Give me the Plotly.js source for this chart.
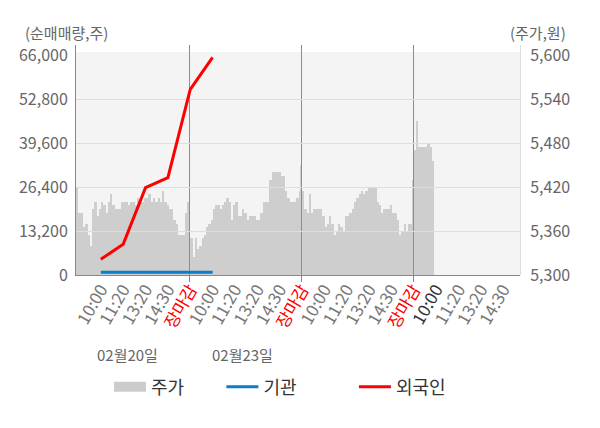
<!DOCTYPE html>
<html>
<head>
<meta charset="utf-8">
<script src="https://cdn.plot.ly/plotly-3.0.1.min.js"></script>
<style>
  html, body { margin: 0; padding: 0; background: #fff; }
  #chart { width: 600px; height: 428px; }
</style>
</head>
<body>
<div id="chart"></div>
<script>
// intraday price (주가), read per bar off the picture, one array per trading day
var priceDay1 = [5420, 5385, 5385, 5365, 5370, 5355, 5340, 5390, 5400, 5380,
                 5390, 5400, 5395, 5385, 5400, 5410, 5395, 5390, 5390, 5390,
                 5400, 5400, 5400, 5395, 5400, 5400, 5395, 5405, 5400, 5400,
                 5405, 5405, 5410, 5400, 5405, 5400, 5405, 5400, 5415, 5400,
                 5395, 5390, 5390, 5375, 5370, 5355, 5355, 5355, 5385, 5400];
var priceDay2 = [5395, 5350, 5325, 5350, 5335, 5340, 5350, 5355, 5365, 5370,
                 5375, 5390, 5395, 5395, 5390, 5395, 5400, 5405, 5400, 5375,
                 5395, 5400, 5380, 5380, 5390, 5385, 5375, 5380, 5380, 5380,
                 5375, 5375, 5385, 5400, 5400, 5400, 5430, 5440, 5440, 5440,
                 5440, 5435, 5435, 5415, 5405, 5400, 5400, 5400, 5405, 5415];
var priceDay3 = [5450, 5415, 5390, 5385, 5410, 5385, 5390, 5390, 5390, 5390,
                 5380, 5365, 5370, 5380, 5370, 5355, 5360, 5370, 5365, 5360,
                 5380, 5380, 5385, 5390, 5400, 5405, 5410, 5415, 5410, 5415,
                 5420, 5420, 5420, 5420, 5400, 5395, 5385, 5390, 5390, 5390,
                 5395, 5385, 5385, 5375, 5355, 5360, 5370, 5360, 5370, 5370];
var priceDay4 = [5430, 5470, 5510, 5475, 5475, 5475, 5475, 5480, 5475, 5455];

// 외국인 / 기관 net volume at the KRX estimate times
var flowSlots = [1, 2, 3, 4, 5, 6];
var foreignNet = [4700, 9200, 26200, 29200, 55700, 65300];
var instNet = [800, 800, 800, 800, 800, 800];

// x axis: five slots per day (09:00 | 10:00 11:20 13:20 14:30 장마감)
var tickSlots = [1, 2, 3, 4, 5, 6, 7, 8, 9, 10, 11, 12, 13, 14, 15, 16, 17, 18, 19];
var CLOSE = '<span style="color:#ff0000">장마감</span>';
var tickLabels = ['10:00', '11:20', '13:20', '14:30', CLOSE,
                  '10:00', '11:20', '13:20', '14:30', CLOSE,
                  '10:00', '11:20', '13:20', '14:30', CLOSE,
                  '<span style="color:#333">10:00</span>', '11:20', '13:20', '14:30'];
var dayBreaks = [4.96, 9.99, 14.98];
var dateLabels = ['02월20일', '02월23일'];
var datePos = [2.2, 7.35];

var volTicks = [0, 13200, 26400, 39600, 52800, 66000];
var volGrid = [13200, 26400, 39600, 52800];
var priceTicks = [5300, 5360, 5420, 5480, 5540, 5600];

var FONT = 'Noto Sans CJK KR, Noto Sans, sans-serif';
var xRange = [-0.11, 19.75];
var NB = '\u00a0';

// bar positions within a day (50 bars per day)
var step = 0.101;
function dayX(d, n) {
    var out = [];
    for (var i = 0; i < n; i++) out.push(5 * d - 0.1 + (i + 0.5) * step);
    return out;
}
var days = [priceDay1, priceDay2, priceDay3, priceDay4];
var px = [], py = [];
for (var d = 0; d < days.length; d++) {
    px = px.concat(dayX(d, days[d].length));
    py = py.concat(days[d]);
}

var priceTrace = {
    x: px, y: py, type: 'bar', width: step,
    xaxis: 'x', yaxis: 'y',
    marker: {color: '#cecece', line: {width: 0}},
    showlegend: false, hoverinfo: 'skip'
};
// legend entry only (wide grey swatch)
var priceLegend = {
    x: [null], y: [null], type: 'scatter', mode: 'lines', name: '주가' + NB.repeat(8),
    xaxis: 'x2', yaxis: 'y3',
    line: {color: '#cccccc', width: 10}
};
var instTrace = {
    x: flowSlots, y: instNet, type: 'scatter', mode: 'lines', name: '기관' + NB.repeat(13),
    xaxis: 'x2', yaxis: 'y2',
    line: {color: '#0b7dcc', width: 3}
};
var foreignTrace = {
    x: flowSlots, y: foreignNet, type: 'scatter', mode: 'lines', name: '외국인',
    xaxis: 'x2', yaxis: 'y2',
    line: {color: '#ff0000', width: 3}
};

var annotations = [
    {text: '(순매매량,주)', xref: 'paper', yref: 'paper', x: -0.0225, y: 1.0522,
     xanchor: 'center', yanchor: 'middle', showarrow: false, font: {size: 15, color: '#666'}},
    {text: '(주가,원)', xref: 'paper', yref: 'paper', x: 1.0405, y: 1.0522,
     xanchor: 'center', yanchor: 'middle', showarrow: false, font: {size: 15, color: '#666'}}
];
for (var k = 0; k < dateLabels.length; k++) {
    annotations.push({text: dateLabels[k], xref: 'x2', yref: 'paper', x: datePos[k], y: -0.3435,
                      xanchor: 'center', yanchor: 'middle', showarrow: false,
                      font: {size: 15, color: '#666'}});
}

var layout = {
    width: 600, height: 428,
    margin: {l: 76, r: 80, t: 45, b: 153},
    paper_bgcolor: '#ffffff',
    plot_bgcolor: 'rgba(0,0,0,0)',
    font: {family: FONT, size: 16, color: '#666'},
    bargap: 0,
    showlegend: true,
    legend: {orientation: 'h', x: 0.0743, xanchor: 'left', y: -0.487, yanchor: 'middle',
             itemwidth: 32, font: {size: 18, color: '#333'}},
    shapes: [{type: 'rect', xref: 'paper', yref: 'paper', x0: 0, x1: 1, y0: 0, y1: 0.9696,
              fillcolor: '#f4f4f4', line: {width: 0}, layer: 'below'}],
    annotations: annotations,
    xaxis: {range: xRange, visible: false, fixedrange: true},
    yaxis: {range: [5300, 5613.6], side: 'right', anchor: 'x', tickvals: priceTicks,
            tickformat: ',', showgrid: false, zeroline: false, showline: true,
            linecolor: '#dddddd', ticks: '', ticklabelstandoff: 6},
    xaxis2: {range: xRange, anchor: 'y2', tickvals: tickSlots, ticktext: tickLabels,
             tickangle: -60, tickfont: {size: 17, color: '#777'}, ticks: '', showgrid: false,
             zeroline: false, showline: true, linecolor: '#888888', ticklabelstandoff: -3,
             minor: {tickvals: dayBreaks, ticks: 'outside', ticklen: 6, tickcolor: '#888888',
                     showgrid: true, gridcolor: '#8c8c8c', gridwidth: 1}},
    yaxis2: {range: [0, 69000], anchor: 'x2', tickvals: volTicks, tickformat: ',',
             showgrid: false, zeroline: false, showline: true, linecolor: '#888888',
             ticks: '', ticklabelstandoff: 4},
    yaxis3: {range: [0, 69000], overlaying: 'y2', anchor: 'x2', tickvals: volGrid,
             showticklabels: false, showgrid: true, gridcolor: '#dedede', gridwidth: 1,
             zeroline: false, ticks: ''}
};

Plotly.newPlot('chart', [priceTrace, priceLegend, instTrace, foreignTrace], layout,
               {displayModeBar: false, staticPlot: true});
</script>
</body>
</html>
